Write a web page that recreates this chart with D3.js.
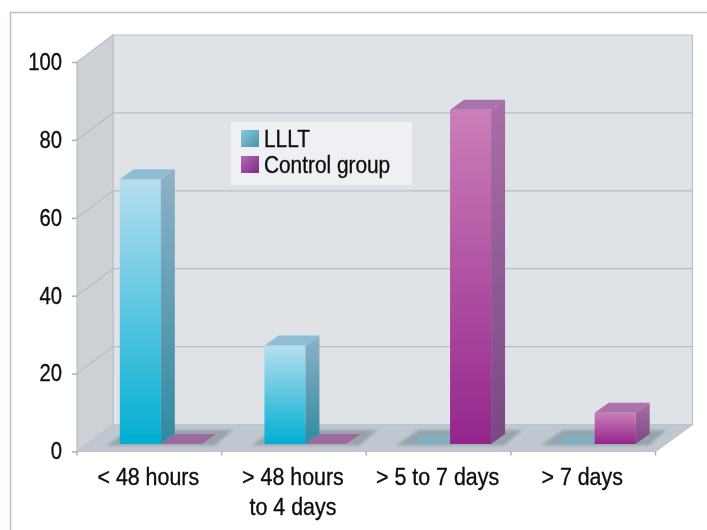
<!DOCTYPE html>
<html>
<head>
<meta charset="utf-8">
<script src="https://cdn.jsdelivr.net/npm/d3@7"></script>
<style>
  html, body { margin: 0; padding: 0; background: #fff; }
  svg { display: block; }
  text { font-family: "Liberation Sans", sans-serif; fill: #111; stroke: #111; stroke-width: 0.35px; }
</style>
</head>
<body>
<svg class="main" width="707" height="530"></svg>
<script>
const categories = [["< 48 hours"], ["> 48 hours", "to 4 days"], ["> 5 to 7 days"], ["> 7 days"]];
const seriesNames = ["LLLT", "Control group"];
const lllt = [68, 25.3, 0, 0];
const control = [0, 0, 85.8, 8];
const yTicks = [0, 20, 40, 60, 80, 100];

const depth = { x: 36, y: -27 };
const barDepth = { x: 14, y: -10 };
const barOffset = { x: 11.5, y: -7.5 };

const y = d3.scaleLinear().domain([0, 100]).range([451.5, 62]);
const x = d3.scaleBand().domain(d3.range(categories.length)).range([77, 655.5]);
const inner = d3.scaleBand().domain([0, 1]).range([-41, 41]);

const palette = [
  { front: ["#b7deef", "#00aed2"], side: ["#8fb2c6", "#2f8aa2"], top: "#8fbdd3", flat: "#84aebf", key: ["#85cbdb", "#4a93ad"] },
  { front: ["#cc7eb8", "#94268d"], side: ["#a96ea7", "#7a4885"], top: "#aa72ab", flat: "#9c6a9f", key: ["#b36bb0", "#7d2a8a"] }
];

const svg = d3.select(".main");
const defs = svg.append("defs");

defs.append("filter").attr("id", "soft")
  .append("feGaussianBlur").attr("stdDeviation", 0.55);
defs.append("filter").attr("id", "shadow")
  .attr("x", "-20%").attr("y", "-50%").attr("width", "140%").attr("height", "200%")
  .append("feGaussianBlur").attr("stdDeviation", 1.6);

function gradient(id, stops, diagonal) {
  const g = defs.append("linearGradient").attr("id", id)
    .attr("x1", 0).attr("x2", diagonal ? 1 : 0).attr("y1", 0).attr("y2", 1);
  g.append("stop").attr("offset", 0).attr("stop-color", stops[0]);
  g.append("stop").attr("offset", 1).attr("stop-color", stops[1]);
}

palette.forEach((p, i) => {
  gradient(`front${i}`, p.front);
  gradient(`side${i}`, p.side);
  gradient(`key${i}`, p.key, true);
});

const poly = pts => pts.map(p => p.join(",")).join(" ");
const chart = svg.append("g").attr("filter", "url(#soft)");

// the source type is narrower than anything installed, so squeeze it
function squeeze(selection, factor) {
  selection.each(function() {
    d3.select(this)
      .attr("lengthAdjust", "spacingAndGlyphs")
      .attr("textLength", this.getComputedTextLength() * factor);
  });
}

// frame
chart.append("path")
  .attr("d", "M10.5,530V12.5H707")
  .attr("fill", "none")
  .attr("stroke", "#c9beb1")
  .attr("stroke-width", 1.5);

// walls and floor
const [x0, x1] = x.range();
const y0 = y(0), y100 = y(100);

chart.append("polygon")
  .attr("points", poly([[x0 + depth.x, y100 + depth.y], [x1 + depth.x + 1, y100 + depth.y], [x1 + depth.x + 1, y0 + depth.y], [x0 + depth.x, y0 + depth.y]]))
  .attr("fill", "#dfe2e6")
  .attr("stroke", "#b9c3ca")
  .attr("stroke-width", 1.2);

chart.append("polygon")
  .attr("points", poly([[x0, y100], [x0 + depth.x, y100 + depth.y], [x0 + depth.x, y0 + depth.y], [x0, y0]]))
  .attr("fill", "#cdd1d6")
  .attr("stroke", "#b9c1c8")
  .attr("stroke-width", 1.2);

chart.append("polygon")
  .attr("points", poly([[x0, y0], [x0 + depth.x, y0 + depth.y], [x1 + depth.x + 1, y0 + depth.y], [x1, y0]]))
  .attr("fill", "#bfc8d1")
  .attr("stroke", "#bcc4cb")
  .attr("stroke-width", 1.2);

// grid
yTicks.filter(d => d > 0 && d < 100).forEach(d => {
  chart.append("path")
    .attr("d", `M${x0},${y(d)}L${x0 + depth.x},${y(d) + depth.y}H${x1 + depth.x + 1}`)
    .attr("fill", "none")
    .attr("stroke", "#b4bec5")
    .attr("stroke-width", 1.3);
});

// y axis
const yAxis = chart.append("g")
  .attr("transform", `translate(${x0},0)`)
  .call(d3.axisLeft(y).tickValues(yTicks).tickSize(5).tickPadding(10));
yAxis.select(".domain").remove();
yAxis.selectAll("line").attr("stroke", "#a9b1b7").attr("stroke-width", 1.5);
yAxis.selectAll("text")
  .attr("font-size", 23)
  .attr("fill", "#111")
  .call(squeeze, 0.88);

// x axis ticks on band edges
chart.selectAll(".xtick")
  .data(d3.range(categories.length + 1))
  .join("line")
  .attr("class", "xtick")
  .attr("x1", d => x0 + d * x.step())
  .attr("x2", d => x0 + d * x.step())
  .attr("y1", y0)
  .attr("y2", y0 + 4)
  .attr("stroke", "#a9b1b7")
  .attr("stroke-width", 1.5);

const labels = chart.selectAll(".xlabel")
  .data(categories)
  .join("text")
  .attr("class", "xlabel")
  .attr("text-anchor", "middle")
  .attr("font-size", 23);
labels.selectAll("tspan")
  .data((d, i) => d.map(line => ({ line, i })))
  .join("tspan")
  .attr("x", d => x(d.i) + x.bandwidth() / 2 - 1)
  .attr("y", (d, j) => 485 + j * 30)
  .text(d => d.line)
  .call(squeeze, 0.93);

// bars
const series = [lllt, control];
categories.forEach((c, i) => {
  const cx = x(i) + x.bandwidth() / 2 + barOffset.x;
  const base = y0 + barOffset.y;

  // floor shadow under the pair of bars
  chart.append("polygon")
    .attr("points", poly([
      [cx - 54, base + 1.5], [cx + 54, base + 1.5],
      [cx + 72, base - 14], [cx - 32, base - 14]
    ]))
    .attr("fill", "#98a3ab")
    .attr("filter", "url(#shadow)");

  series.forEach((values, s) => {
    const v = values[i];
    const left = cx + inner(s);
    const right = left + inner.bandwidth();
    const top = base - (y0 - y(v));
    const p = palette[s];

    if (v === 0) {
      chart.append("polygon")
        .attr("points", poly([[left, base], [right, base], [right + barDepth.x, base + barDepth.y], [left + barDepth.x, base + barDepth.y]]))
        .attr("fill", p.flat);
      return;
    }

    chart.append("rect")
      .attr("x", left).attr("y", top)
      .attr("width", right - left).attr("height", base - top)
      .attr("fill", `url(#front${s})`);
    chart.append("polygon")
      .attr("points", poly([[right, top], [right + barDepth.x, top + barDepth.y], [right + barDepth.x, base + barDepth.y], [right, base]]))
      .attr("fill", `url(#side${s})`);
    chart.append("polygon")
      .attr("points", poly([[left, top], [right, top], [right + barDepth.x, top + barDepth.y], [left + barDepth.x, top + barDepth.y]]))
      .attr("fill", p.top);
  });
});

// legend
const legend = chart.append("g").attr("transform", "translate(231,122)");
legend.append("rect")
  .attr("width", 181).attr("height", 63)
  .attr("fill", "#eef0f4");
seriesNames.forEach((name, i) => {
  const row = legend.append("g").attr("transform", `translate(10,${8 + i * 26})`);
  row.append("rect")
    .attr("width", 18).attr("height", 17)
    .attr("fill", `url(#key${i})`);
  row.append("text")
    .attr("x", 23).attr("y", 17)
    .attr("font-size", 23)
    .text(name)
    .call(squeeze, 0.905);
});
</script>
</body>
</html>
